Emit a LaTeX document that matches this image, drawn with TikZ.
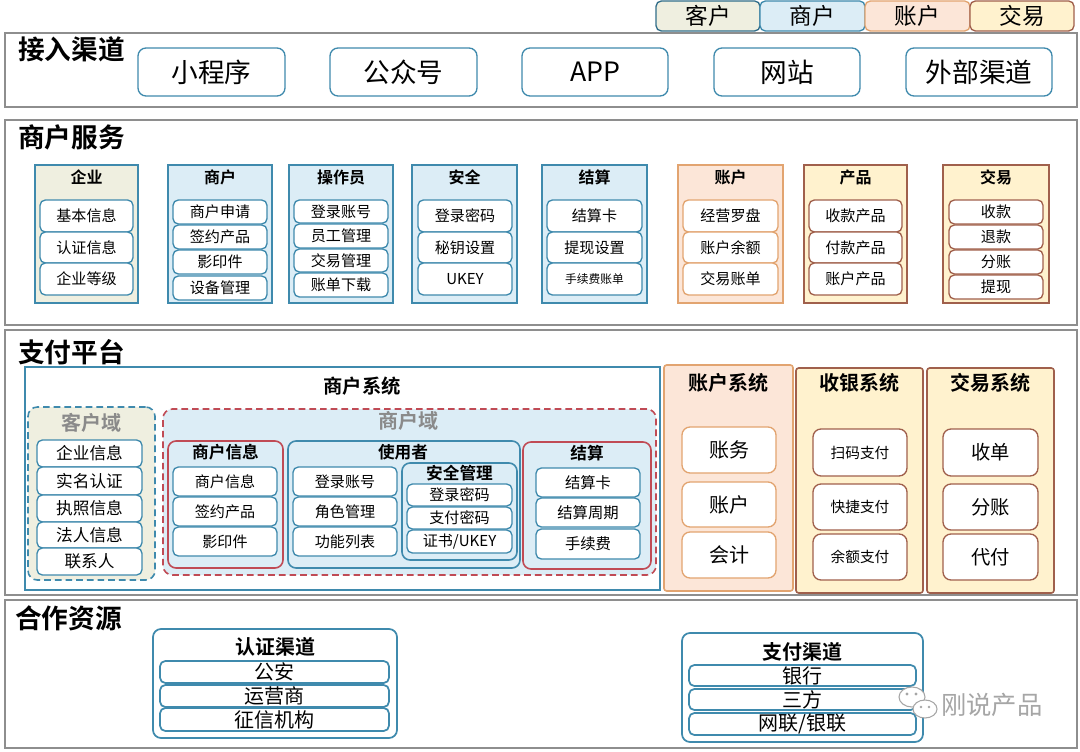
\documentclass[tikz,border=0pt]{standalone}
\usepackage{fontspec}
\setmainfont{Noto Sans CJK SC}[BoldFont={Noto Sans CJK SC Bold}]
\definecolor{frameC}{HTML}{8E8E8E}
\definecolor{tealC}{HTML}{3F8AAD}
\definecolor{blueF}{HTML}{DCEDF6}
\definecolor{beigeF}{HTML}{EFEFE0}
\definecolor{orangeC}{HTML}{E2A470}
\definecolor{peachF}{HTML}{FCE6D8}
\definecolor{brownC}{HTML}{A0604C}
\definecolor{yellowF}{HTML}{FFF2CE}
\definecolor{redC}{HTML}{C04B55}
\definecolor{greyT}{HTML}{8A8A8A}
\definecolor{wmC}{HTML}{A6A6A6}
\newcommand\myfs[1]{\fontsize{#1}{#1}\selectfont}
% name, style, x1, y1, x2, y2, text
\newcommand\bx[7]{%
  \pgfmathsetmacro\myw{(#5-#3)*0.75}%
  \pgfmathsetmacro\myh{(#6-#4)*0.75}%
  \node[#2, minimum width=\myw pt, minimum height=\myh pt, inner sep=0pt] (#1) at ({(#3+#5)/2},{(#4+#6)/2}) {#7};}
\begin{document}
\begin{tikzpicture}[x=0.75pt,y=-0.75pt,
  frame/.style={draw=frameC, line width=1.2pt, fill=white},
  sec/.style={font=\myfs{20}\bfseries, anchor=west, inner sep=0pt},
  chan/.style={draw=tealC, rounded corners=6pt, line width=1pt, fill=white, font=\myfs{20}},
  legK/.style={draw=tealC!80!black, fill=beigeF, rounded corners=4pt, line width=1pt, font=\myfs{17}},
  legS/.style={draw=tealC, fill=blueF, rounded corners=4pt, line width=1pt, font=\myfs{17}},
  legA/.style={draw=orangeC, fill=peachF, rounded corners=4pt, line width=1pt, font=\myfs{17}},
  legT/.style={draw=brownC, fill=yellowF, rounded corners=4pt, line width=1pt, font=\myfs{17}},
  grpB/.style={draw=tealC, fill=blueF, line width=1.2pt},
  grpE/.style={draw=tealC, fill=beigeF, line width=1.2pt},
  grpA/.style={draw=orangeC, fill=peachF, line width=1.2pt},
  grpT/.style={draw=brownC, fill=yellowF, line width=1.2pt},
  gtitle/.style={font=\myfs{12}\bfseries, inner sep=0pt},
  stitle/.style={font=\myfs{14.5}\bfseries, inner sep=0pt},
  dtitle/.style={font=\myfs{15}\bfseries, text=greyT, inner sep=0pt},
  itemB/.style={draw=tealC, fill=white, rounded corners=4pt, line width=1pt, font=\myfs{11.3}},
  itemA/.style={draw=orangeC, fill=white, rounded corners=4pt, line width=1pt, font=\myfs{11.3}},
  itemT/.style={draw=brownC, fill=white, rounded corners=4pt, line width=1pt, font=\myfs{11.3}},
  bigA/.style={draw=orangeC, fill=white, rounded corners=6pt, line width=1pt, font=\myfs{15}},
  bigT/.style={draw=brownC, fill=white, rounded corners=6pt, line width=1pt, font=\myfs{14.5}},
  midT/.style={draw=brownC, fill=white, rounded corners=6pt, line width=1pt, font=\myfs{11}},
  resB/.style={draw=tealC, fill=white, rounded corners=4pt, line width=1.3pt, font=\myfs{15}},
]
\fill[white] (0,0) rectangle (1080,752);
\useasboundingbox (0,0) rectangle (1080,752);

% legend
\bx{lgK}{legK}{656}{1}{760}{31}{客户}
\bx{lgS}{legS}{760}{1}{865}{31}{商户}
\bx{lgA}{legA}{865}{1}{970}{31}{账户}
\bx{lgT}{legT}{970}{1}{1074}{31}{交易}

% ===== 接入渠道 =====
\bx{f1}{frame}{5}{33}{1077}{107}{}
\node[sec] (t1) at (18,49) {接入渠道};
\bx{c1}{chan}{138}{48}{285}{96}{小程序}
\bx{c2}{chan}{330}{48}{477}{96}{公众号}
\bx{c3}{chan}{522}{48}{668}{96}{APP}
\bx{c4}{chan}{714}{48}{860}{96}{网站}
\bx{c5}{chan}{906}{48}{1052}{96}{外部渠道}

% ===== 商户服务 =====
\bx{f2}{frame}{5}{120}{1077}{325}{}
\node[sec] (t2) at (18,137) {商户服务};
% 企业
\bx{gQ}{grpE}{35}{165}{138}{303}{}
\node[gtitle] (gQt) at (86.5,177) {企业};
\bx{q1}{itemB}{40}{200}{133}{232}{基本信息}
\bx{q2}{itemB}{40}{232}{133}{263}{认证信息}
\bx{q3}{itemB}{40}{263}{133}{295}{企业等级}
% 商户
\bx{gS}{grpB}{168}{165}{272}{303}{}
\node[gtitle] (gSt) at (220,177) {商户};
\bx{s1}{itemB}{173}{200}{267}{224}{商户申请}
\bx{s2}{itemB}{173}{225}{267}{249}{签约产品}
\bx{s3}{itemB}{173}{250}{267}{274}{影印件}
\bx{s4}{itemB}{173}{276}{267}{300}{设备管理}
% 操作员
\bx{gO}{grpB}{289}{165}{393}{303}{}
\node[gtitle] (gOt) at (341,177) {操作员};
\bx{o1}{itemB}{294}{200}{388}{223}{登录账号}
\bx{o2}{itemB}{294}{224}{388}{248}{员工管理}
\bx{o3}{itemB}{294}{249}{388}{272}{交易管理}
\bx{o4}{itemB}{294}{273}{388}{297}{账单下载}
% 安全
\bx{gAq}{grpB}{412}{165}{517}{303}{}
\node[gtitle] (gAqt) at (464.5,177) {安全};
\bx{a1}{itemB}{418}{200}{512}{232}{登录密码}
\bx{a2}{itemB}{418}{232}{512}{263}{秘钥设置}
\bx{a3}{itemB}{418}{263}{512}{295}{UKEY}
% 结算
\bx{gJ}{grpB}{542}{165}{647}{303}{}
\node[gtitle] (gJt) at (594.5,177) {结算};
\bx{j1}{itemB}{547}{200}{642}{232}{结算卡}
\bx{j2}{itemB}{547}{232}{642}{263}{提现设置}
\bx{j3}{itemB, font=\myfs{8.8}}{547}{263}{642}{295}{手续费账单}
% 账户
\bx{gZ}{grpA}{678}{165}{783}{303}{}
\node[gtitle] (gZt) at (730.5,177) {账户};
\bx{z1}{itemA}{683}{200}{778}{232}{经营罗盘}
\bx{z2}{itemA}{683}{232}{778}{263}{账户余额}
\bx{z3}{itemA}{683}{263}{778}{295}{交易账单}
% 产品
\bx{gP}{grpT}{804}{165}{907}{303}{}
\node[gtitle] (gPt) at (855.5,177) {产品};
\bx{p1}{itemT}{809}{200}{902}{232}{收款产品}
\bx{p2}{itemT}{809}{232}{902}{263}{付款产品}
\bx{p3}{itemT}{809}{263}{902}{295}{账户产品}
% 交易
\bx{gX}{grpT}{943}{165}{1049}{303}{}
\node[gtitle] (gXt) at (996,177) {交易};
\bx{x1}{itemT}{949}{200}{1043}{224}{收款}
\bx{x2}{itemT}{949}{225}{1043}{249}{退款}
\bx{x3}{itemT}{949}{250}{1043}{274}{分账}
\bx{x4}{itemT}{949}{275}{1043}{299}{提现}

% ===== 支付平台 =====
\bx{f3}{frame}{5}{330}{1077}{595}{}
\node[sec] (t3) at (18,352) {支付平台};
% 商户系统
\bx{mS}{draw=tealC, fill=white, line width=1.2pt}{25}{367}{660}{590}{}
\node[stitle] (mSt) at (362,386) {商户系统};
% 客户域
\bx{dK}{draw=tealC, fill=beigeF, dashed, dash pattern=on 5pt off 3pt, line width=1.2pt, rounded corners=7pt}{28}{407}{155}{580}{}
\node[dtitle] (dKt) at (91.5,423) {客户域};
\bx{k1}{itemB, font=\myfs{12.5}}{37}{440}{142}{467}{企业信息}
\bx{k2}{itemB, font=\myfs{12.5}}{37}{467}{142}{495}{实名认证}
\bx{k3}{itemB, font=\myfs{12.5}}{37}{495}{142}{522}{执照信息}
\bx{k4}{itemB, font=\myfs{12.5}}{37}{522}{142}{548}{法人信息}
\bx{k5}{itemB, font=\myfs{12.5}}{37}{548}{142}{575}{联系人}
% 商户域
\bx{dS}{draw=redC, fill=blueF, dashed, dash pattern=on 5pt off 3pt, line width=1.2pt, rounded corners=7pt}{163}{409}{656}{575}{}
\node[dtitle] (dSt) at (408,421) {商户域};
% 商户信息
\bx{mI}{draw=redC, fill=blueF, line width=1.2pt, rounded corners=6pt}{168}{441}{283}{568}{}
\node[gtitle, font=\myfs{12.5}\bfseries] (mIt) at (225.5,452) {商户信息};
\bx{i1}{itemB}{173}{467}{277}{496}{商户信息}
\bx{i2}{itemB}{173}{497}{277}{526}{签约产品}
\bx{i3}{itemB}{173}{527}{277}{556}{影印件}
% 使用者
\bx{mU}{draw=tealC, fill=blueF, line width=1.2pt, rounded corners=6pt}{288}{441}{520}{568}{}
\node[gtitle, font=\myfs{12.5}\bfseries] (mUt) at (403,452) {使用者};
\bx{u1}{itemB}{293}{467}{397}{496}{登录账号}
\bx{u2}{itemB}{293}{497}{397}{526}{角色管理}
\bx{u3}{itemB}{293}{527}{397}{556}{功能列表}
% 安全管理
\bx{mA}{draw=tealC, fill=blueF, line width=1.2pt, rounded corners=6pt}{402}{463}{517}{560}{}
\node[gtitle, font=\myfs{12.5}\bfseries] (mAt) at (459.5,473) {安全管理};
\bx{m1}{itemB}{407}{484}{512}{506}{登录密码}
\bx{m2}{itemB}{407}{507}{512}{529}{支付密码}
\bx{m3}{itemB}{407}{530}{512}{553}{证书/UKEY}
% 结算
\bx{mJ}{draw=redC, fill=blueF, line width=1.2pt, rounded corners=6pt}{523}{442}{651}{569}{}
\node[gtitle, font=\myfs{12.5}\bfseries] (mJt) at (587,453) {结算};
\bx{n1}{itemB, font=\myfs{11.5}}{536}{468}{640}{497}{结算卡}
\bx{n2}{itemB, font=\myfs{11.5}}{536}{498}{640}{527}{结算周期}
\bx{n3}{itemB, font=\myfs{11.5}}{536}{529}{640}{559}{手续费}
% 账户系统
\bx{sA}{grpA, rounded corners=2pt}{664}{365}{793}{591}{}
\node[stitle, font=\myfs{15}\bfseries] (sAt) at (728.5,383) {账户系统};
\bx{sa1}{bigA}{682}{427}{776}{473}{账务}
\bx{sa2}{bigA}{682}{482}{776}{527}{账户}
\bx{sa3}{bigA}{682}{532}{776}{578}{会计}
% 收银系统
\bx{sC}{grpT, rounded corners=2pt}{796}{368}{923}{593}{}
\node[stitle, font=\myfs{15}\bfseries] (sCt) at (859.5,383) {收银系统};
\bx{sc1}{midT}{813}{429}{907}{476}{扫码支付}
\bx{sc2}{midT}{813}{484}{907}{530}{快捷支付}
\bx{sc3}{midT}{813}{534}{907}{580}{余额支付}
% 交易系统
\bx{sT}{grpT, rounded corners=2pt}{927}{368}{1054}{593}{}
\node[stitle, font=\myfs{15}\bfseries] (sTt) at (990.5,383) {交易系统};
\bx{st1}{bigT}{943}{429}{1038}{476}{收单}
\bx{st2}{bigT}{943}{484}{1038}{530}{分账}
\bx{st3}{bigT}{943}{534}{1038}{580}{代付}

% ===== 合作资源 =====
\bx{f4}{frame}{5}{600}{1077}{748}{}
\node[sec] (t4) at (15,618) {合作资源};
\bx{rA}{draw=tealC, fill=white, line width=1.3pt, rounded corners=6pt}{153}{629}{397}{738}{}
\node[stitle, font=\myfs{15}\bfseries] (rAt) at (275,647) {认证渠道};
\bx{ra1}{resB}{160}{661}{389}{683}{公安}
\bx{ra2}{resB}{160}{685}{389}{707}{运营商}
\bx{ra3}{resB}{160}{708}{389}{731}{征信机构}
\bx{rB}{draw=tealC, fill=white, line width=1.3pt, rounded corners=6pt}{682}{633}{923}{742}{}
\node[stitle, font=\myfs{15}\bfseries] (rBt) at (802.5,652) {支付渠道};
\bx{rb1}{resB}{689}{665}{916}{686}{银行}
\bx{rb2}{resB}{689}{689}{916}{710}{三方}
\bx{rb3}{resB}{689}{713}{916}{735}{网联/银联}

% watermark
\filldraw[wmC, fill=white, line width=0.8pt] (912,697) ellipse [x radius=13, y radius=10];
\filldraw[wmC, fill=white, line width=0.8pt] (925,709) ellipse [x radius=12, y radius=9];
\fill[wmC] (907,694) circle (1.6) (916,694) circle (1.6) (921,707) circle (1.4) (929,707) circle (1.4);
\node[font=\myfs{19}, text=wmC, anchor=west, inner sep=0pt] (wm) at (941,705) {刚说产品};
\end{tikzpicture}
\end{document}
